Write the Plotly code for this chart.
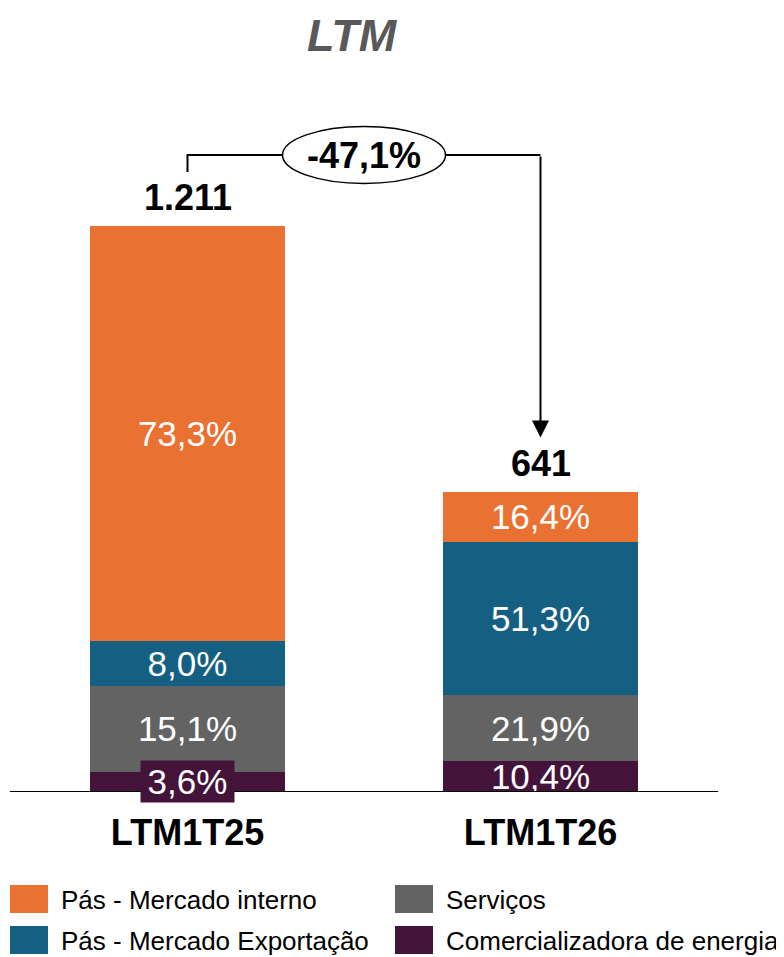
import plotly.graph_objects as go

# ---------------- data ----------------
categories = ["LTM1T25", "LTM1T26"]
totals = [1211, 641]
series_names = ["Comercializadora de energia", "Serviços",
                "Pás - Mercado Exportação", "Pás - Mercado interno"]
pct_comercializadora = [3.6, 10.4]
pct_servicos = [15.1, 21.9]
pct_exportacao = [8.0, 51.3]
pct_interno = [73.3, 16.4]
series_pcts = [pct_comercializadora, pct_servicos, pct_exportacao, pct_interno]
colors = ["#44133A", "#636363", "#156082", "#E97132"]
title_text = "LTM"

# legend layout (order as in reference: row-major)
legend_order = ["Pás - Mercado interno", "Serviços",
                "Pás - Mercado Exportação", "Comercializadora de energia"]

FONT = "Liberation Sans, Arial, sans-serif"
W, H = 784, 957
OFF = 8   # page body margin compensation

# geometry helpers (pixel -> axis units) for decorations
base_px = 792 - OFF
top_px = 226 - OFF
k = (base_px - top_px) / totals[0]          # pixels per unit
y_top = base_px / k
cx0 = 187.5 - OFF
x_left = -cx0 / 353
x_right = (W - cx0) / 353


def fmt_pct(p):
    return f"{p:.1f}".replace(".", ",") + "%"


def fmt_total(t):
    return f"{t:,}".replace(",", ".")


fig = go.Figure()

for name, pcts, col in zip(series_names, series_pcts, colors):
    vals = [t * p / 100 for t, p in zip(totals, pcts)]
    texts = [fmt_pct(p) for p in pcts]
    if name == "Comercializadora de energia":
        texts[0] = ""   # drawn as boxed annotation below
    fig.add_trace(go.Bar(
        x=categories, y=vals, name=name, marker=dict(color=col, line=dict(width=0)),
        width=0.555, text=texts, textposition="inside", insidetextanchor="middle",
        textangle=0, constraintext="none",
        textfont=dict(family=FONT, size=35, color="white"),
        showlegend=False, hoverinfo="skip", cliponaxis=False,
    ))

annotations = []
shapes = []

# boxed small label for the first purple segment
p0 = pct_comercializadora[0]
annotations.append(dict(
    x=categories[0], y=totals[0] * p0 / 100 / 2, xref="x", yref="y",
    text=fmt_pct(p0), showarrow=False, bgcolor=colors[0],
    width=93, height=41, borderpad=0,
    font=dict(family=FONT, size=35, color="white"),
))

# totals above bars
for c, t in zip(categories, totals):
    annotations.append(dict(
        x=c, y=t, xref="x", yref="y", text=f"<b>{fmt_total(t)}</b>",
        showarrow=False, yanchor="bottom", yshift=6,
        font=dict(family=FONT, size=36, color="black"),
    ))

# baseline
shapes.append(dict(type="line", xref="x", yref="y", x0=-0.503, x1=1.503, y0=0, y1=0,
                   line=dict(color="black", width=2)))

# bracket with change
bracket_y = totals[0] + (226 - 155) / k
start_y = totals[0] + 54 / k
end_y = totals[1] + 55 / k
shapes.append(dict(type="path", xref="x", yref="y",
                   path=f"M 0,{start_y} L 0,{bracket_y} L 1,{bracket_y}",
                   line=dict(color="black", width=2)))
annotations.append(dict(
    x=1, y=end_y, ax=1, ay=bracket_y, xref="x", yref="y", axref="x", ayref="y",
    text="", showarrow=True, arrowhead=2, arrowsize=1.7, arrowwidth=2,
    arrowcolor="black", standoff=0, startstandoff=0,
))
ew, eh = 81.5 / 353, 28.5 / k
shapes.append(dict(type="circle", xref="x", yref="y",
                   x0=0.5 - ew, x1=0.5 + ew, y0=bracket_y - eh, y1=bracket_y + eh,
                   fillcolor="white", line=dict(color="black", width=1.5), layer="above"))
change = (totals[1] / totals[0] - 1) * 100
annotations.append(dict(
    x=0.5, y=bracket_y, xref="x", yref="y", text=f"<b>{fmt_pct(change)}</b>",
    showarrow=False, font=dict(family=FONT, size=36, color="black"),
))

# manual legend
leg_pos = {
    "Pás - Mercado interno": (10, 885),
    "Serviços": (395, 885),
    "Pás - Mercado Exportação": (10, 926),
    "Comercializadora de energia": (395, 926),
}
color_of = dict(zip(series_names, colors))
for name in legend_order:
    px, py = leg_pos[name]
    px -= OFF
    py -= OFF
    shapes.append(dict(type="rect", xref="paper", yref="paper",
                       x0=px / W, x1=(px + 38) / W, y0=1 - py / H, y1=1 - (py + 28) / H,
                       fillcolor=color_of[name], line=dict(width=0)))
    annotations.append(dict(
        x=(px + 49) / W, y=1 - (py + 15) / H, xref="paper", yref="paper",
        xanchor="left", yanchor="middle", text=name, showarrow=False,
        font=dict(family=FONT, size=26, color="black"),
    ))

# title as a top-anchored annotation (kept fully inside the canvas)
annotations.append(dict(
    x=(352 - OFF) / W, y=1, xref="paper", yref="paper",
    xanchor="center", yanchor="top", showarrow=False,
    text=f"<b><i>{title_text}</i></b>",
    font=dict(family=FONT, size=45, color="#595959"),
))

fig.update_layout(
    width=W, height=H, barmode="stack",
    margin=dict(l=0, r=0, t=0, b=0),
    paper_bgcolor="white", plot_bgcolor="white",
    xaxis=dict(type="category", range=[x_left, x_right], showgrid=False,
               showline=False, zeroline=False, ticks="",
               tickfont=dict(family=FONT, size=36, color="black"),
               tickvals=categories, ticktext=[f"<b>{c}</b>" for c in categories],
               ticklabelstandoff=16, automargin=False),
    yaxis=dict(domain=[(H - base_px) / H, 1], range=[0, y_top], visible=False,
               automargin=False),
    uniformtext=dict(minsize=35, mode="show"),
    shapes=shapes, annotations=annotations,
    showlegend=False,
)

fig.write_html("out.html")
